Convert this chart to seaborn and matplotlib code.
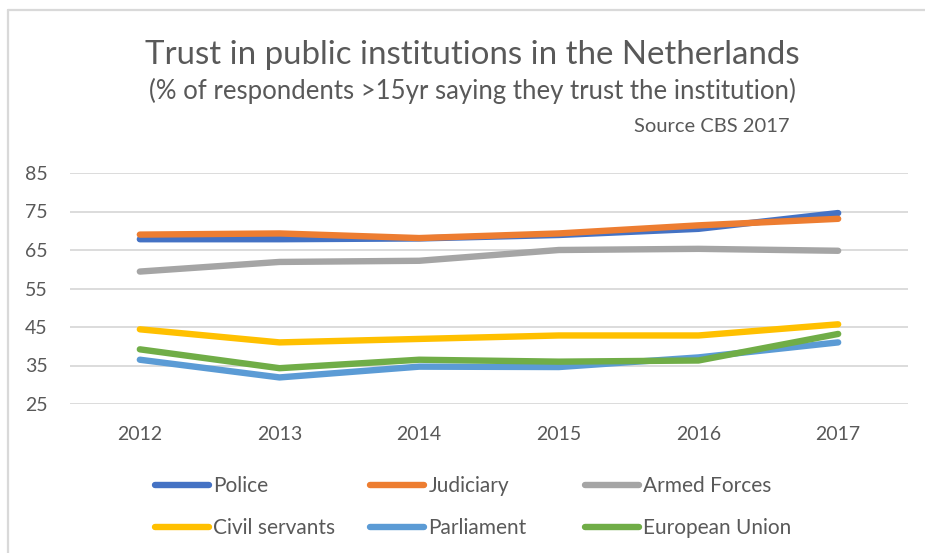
import matplotlib
matplotlib.use("Agg")
import matplotlib.pyplot as plt
from matplotlib.lines import Line2D
import pandas as pd
import seaborn as sns

# Survey results: share of respondents aged over 15 who trust each institution (%)
years = ["2012", "2013", "2014", "2015", "2016", "2017"]
institutions = ["Police", "Judiciary", "Armed Forces",
                "Civil servants", "Parliament", "European Union"]
police = [67.8, 67.8, 68.0, 68.9, 70.5, 74.6]
judiciary = [69.0, 69.3, 68.1, 69.3, 71.4, 73.1]
armed_forces = [59.4, 61.9, 62.2, 65.0, 65.3, 64.8]
civil_servants = [44.4, 41.0, 41.9, 42.8, 42.8, 45.7]
parliament = [36.5, 31.9, 34.7, 34.6, 37.1, 41.0]
european_union = [39.2, 34.3, 36.5, 36.0, 36.3, 43.2]
series = [police, judiciary, armed_forces, civil_servants, parliament, european_union]
colors = ["#4472C4", "#ED7D31", "#A5A5A5", "#FFC000", "#5B9BD5", "#70AD47"]
y_ticks = [25, 35, 45, 55, 65, 75, 85]

rows = []
for name, values in zip(institutions, series):
    for yr, v in zip(years, values):
        rows.append({"Year": yr, "Institution": name, "Trust": v})
df = pd.DataFrame(rows)

sns.set_theme(style="white")
plt.rcParams["font.family"] = ["Lato", "DejaVu Sans"]
text_grey = "#595959"
grid_grey = "#D9D9D9"

W, H = 925, 553
fig = plt.figure(figsize=(W / 100, H / 100), dpi=100)
ax = fig.add_axes([70 / W, 1 - 404 / H, (908 - 70) / W, (404 - 173) / H])

sns.lineplot(data=df, x="Year", y="Trust", hue="Institution",
             hue_order=institutions, palette=colors, sort=False,
             linewidth=4.6, legend=False, ax=ax, solid_capstyle="round")

ax.set_xlim(-0.5, len(years) - 0.5)
ax.set_ylim(y_ticks[0], y_ticks[-1])
ax.set_yticks(y_ticks)
ax.set_xlabel("")
ax.set_ylabel("")
ax.grid(axis="y", color=grid_grey, linewidth=1.3)
ax.grid(axis="x", visible=False)
ax.set_axisbelow(True)
for s in ax.spines.values():
    s.set_visible(False)
ax.tick_params(axis="both", length=0, labelsize=14, colors=text_grey)
ax.tick_params(axis="y", pad=16)
ax.tick_params(axis="x", pad=16)

# titles
fig.text(472 / W, 1 - 55 / H, "Trust in public institutions in the Netherlands",
         ha="center", va="center", fontsize=23.8, color=text_grey)
fig.text(472 / W, 1 - 91 / H,
         "(% of respondents >15yr saying they trust the institution)",
         ha="center", va="center", fontsize=18.5, color=text_grey)
fig.text(790 / W, 1 - 127 / H, "Source CBS 2017",
         ha="right", va="center", fontsize=14.5, color=text_grey)

# legend: three equally spaced columns, two rows
handles = [Line2D([], [], color=c, linewidth=4.6, solid_capstyle="round")
           for c in colors]
col_x = [155, 370, 585]
for i, x0 in enumerate(col_x):
    idx = [i, i + 3]
    leg = fig.legend([handles[j] for j in idx], [institutions[j] for j in idx],
                     loc="center left", bbox_to_anchor=(x0 / W, 1 - 507 / H),
                     frameon=False, fontsize=15, handlelength=2.6,
                     handletextpad=0.2, borderpad=0, borderaxespad=0,
                     labelspacing=1.05, labelcolor=text_grey)

# chart frame (top and left edge)
fig.add_artist(Line2D([7.5 / W, 1], [1 - 9.5 / H, 1 - 9.5 / H],
                      color=grid_grey, linewidth=1.6, transform=fig.transFigure))
fig.add_artist(Line2D([7.5 / W, 7.5 / W], [0, 1 - 9.5 / H],
                      color=grid_grey, linewidth=1.6, transform=fig.transFigure))

fig.savefig("out.png", dpi=100, facecolor="white")
